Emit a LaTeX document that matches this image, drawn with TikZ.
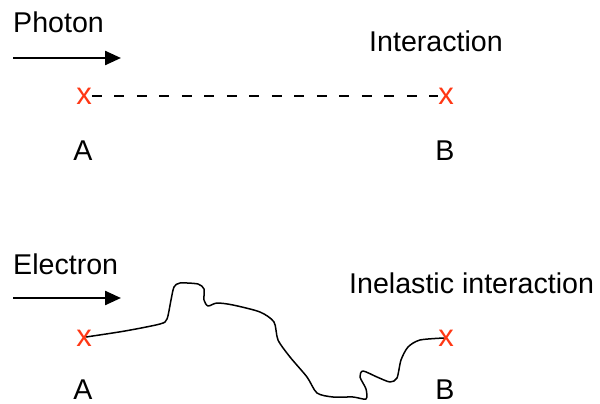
\documentclass[tikz,border=0pt]{standalone}
\usepackage{fontspec}
\setmainfont{Liberation Sans}
\usetikzlibrary{arrows.meta}
\definecolor{xred}{RGB}{255,55,20}
\begin{document}
\begin{tikzpicture}[x=1pt,y=-1pt,
  lbl/.style={inner sep=0pt, font=\fontsize{28.6}{32}\selectfont, anchor=base west},
  ctr/.style={inner sep=0pt, font=\fontsize{28.6}{32}\selectfont, anchor=base},
  xmark/.style={inner sep=0pt, text=xred, font=\fontsize{31}{32}\selectfont},
  dirarrow/.style={line width=2.4pt, -{Triangle[length=16pt,width=14pt]}},
  track/.style={line width=1.5pt, line join=round, line cap=round},
]
\useasboundingbox (0,0) rectangle (600,404);

% ---- Photon ----
\node[lbl] (photon) at (13,33) {Photon};
\coordinate (pa1) at (13,58);
\coordinate (pa2) at (121,58);
\draw[dirarrow] (pa1) -- (pa2);
\node[lbl] (interaction) at (369,52) {Interaction};
\node[xmark] (xA1) at (84,96) {x};
\node[xmark] (xB1) at (446,96) {x};
\draw[line width=2.4pt, dash pattern=on 10pt off 12.5pt] (xA1.east) -- (xB1.west);
\node[ctr] (A1) at (83,160) {A};
\node[ctr] (B1) at (445,160) {B};

% ---- Electron ----
\node[lbl] (electron) at (13,274) {Electron};
\coordinate (ea1) at (13,298);
\coordinate (ea2) at (121,298);
\draw[dirarrow] (ea1) -- (ea2);
\node[lbl] (inelastic) at (349,293) {Inelastic interaction};
\coordinate (cA) at (86,337);
\coordinate (cB) at (444,338);
\draw[track] plot[smooth, tension=0.45] coordinates {
  (cA) (125,331) (160,324) (167,319) (171,300) (174,287) (180,283)
  (198,284) (204,289) (204,300) (208,306) (217,303) (233,305)
  (260,312) (274,322) (278,340) (290,357) (307,377) (317,393)
  (333,397) (353,397) (366,399) (366,389) (360,377) (363,371)
  (377,377) (390,382) (397,378) (401,360) (408,347) (420,340) (cB)};
\node[xmark] (xA2) at (84,338) {x};
\node[xmark] (xB2) at (446,338) {x};
\node[ctr] (A2) at (83,399) {A};
\node[ctr] (B2) at (445,399) {B};
\end{tikzpicture}
\end{document}
